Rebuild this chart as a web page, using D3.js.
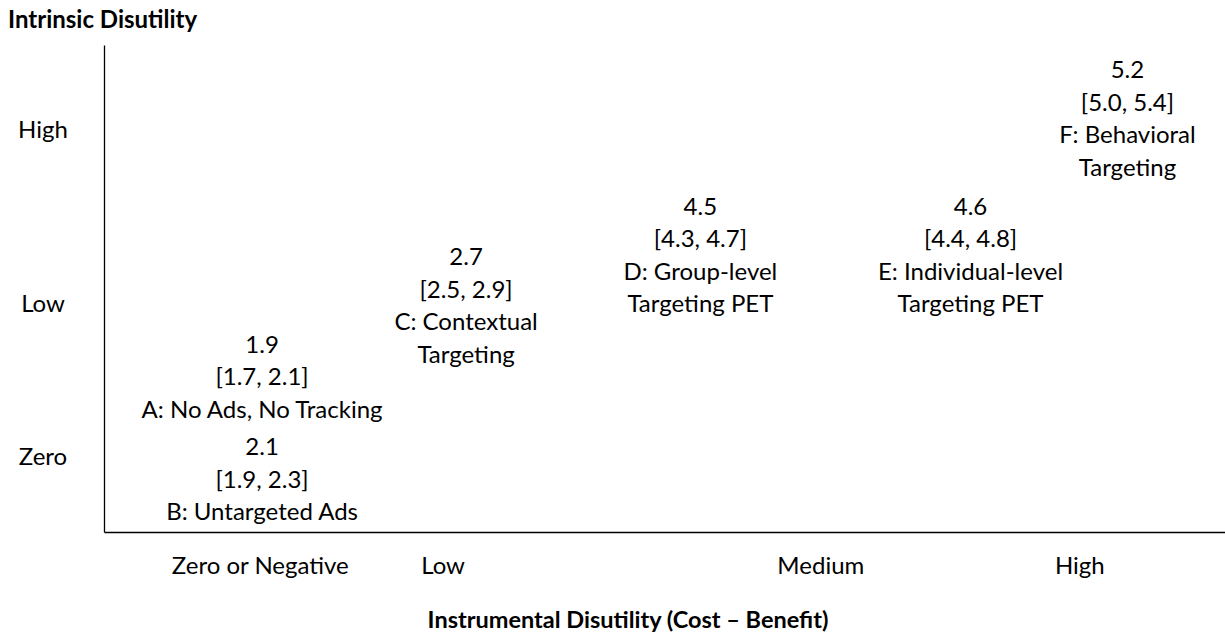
<!DOCTYPE html>
<html>
<head>
<meta charset="utf-8">
<script src="https://cdn.jsdelivr.net/npm/d3@7"></script>
<style>
  body { margin: 0; background: #fff; }
  svg text { font-family: Lato, "Open Sans", sans-serif; fill: #000; }
</style>
</head>
<body>
<svg id="chart" width="1225" height="640"></svg>
<script>
// option labels (one entry per text line)
var optionNames = [
  ["A: No Ads, No Tracking"],
  ["B: Untargeted Ads"],
  ["C: Contextual", "Targeting"],
  ["D: Group-level", "Targeting PET"],
  ["E: Individual-level", "Targeting PET"],
  ["F: Behavioral", "Targeting"]
];
var means = [1.9, 2.1, 2.7, 4.5, 4.6, 5.2];
var ciLow = [1.7, 1.9, 2.5, 4.3, 4.4, 5.0];
var ciHigh = [2.1, 2.3, 2.9, 4.7, 4.8, 5.4];

// where each option sits on the two conceptual axes (0-100 scale)
var instrumental = [14.1, 14.1, 32.3, 53.2, 77.3, 91.3];
var intrinsic = [36.8, 15.8, 54.8, 65.1, 65.1, 93.2];

// axis category labels
var xLabels = ["Zero or Negative", "Low", "Medium", "High"];
var xLabelPos = [13.9, 30.2, 63.9, 87.0];
var yLabels = ["High", "Low", "Zero"];
var yLabelPos = [81.1, 45.2, 13.8];

var svg = d3.select("#chart");

var x = d3.scaleLinear().domain([0, 100]).range([104, 1225]);
var y = d3.scaleLinear().domain([0, 100]).range([532, 45]);
var lineH = 32.5;

// bottom axis
var xAxis = svg.append("g")
    .attr("transform", "translate(0," + y(0) + ")")
    .call(d3.axisBottom(x)
      .tickValues(xLabelPos)
      .tickFormat(function(d, i) { return xLabels[i]; })
      .tickSize(0)
      .tickSizeOuter(0));
xAxis.select(".domain").attr("stroke", "#000").attr("stroke-width", 1.3);
xAxis.selectAll("text")
    .attr("y", 42)
    .attr("dy", 0)
    .style("font-size", "24px")
    .style("font-family", "Lato, sans-serif");

// left axis
var yAxis = svg.append("g")
    .attr("transform", "translate(" + x(0) + ",0)")
    .call(d3.axisLeft(y)
      .tickValues(yLabelPos)
      .tickFormat(function(d, i) { return yLabels[i]; })
      .tickSize(0)
      .tickSizeOuter(0));
yAxis.select(".domain").attr("stroke", "#000").attr("stroke-width", 1.3);
yAxis.selectAll("text")
    .attr("x", -61)
    .attr("dy", 0)
    .attr("text-anchor", "middle")
    .style("font-size", "24px")
    .style("font-family", "Lato, sans-serif");

// axis titles
svg.append("text")
    .attr("x", 8)
    .attr("y", 28)
    .style("font-size", "24px")
    .style("font-weight", "bold")
    .text("Intrinsic Disutility");

svg.append("text")
    .attr("x", 628)
    .attr("y", 628)
    .attr("text-anchor", "middle")
    .style("font-size", "23.5px")
    .style("font-weight", "bold")
    .text("Instrumental Disutility (Cost \u2013 Benefit)");

// option blocks: mean, CI, name
var blocks = svg.selectAll(".opt")
    .data(means.map(function(m, i) {
      return {
        lines: [m.toFixed(1), "[" + ciLow[i].toFixed(1) + ", " + ciHigh[i].toFixed(1) + "]"].concat(optionNames[i]),
        xv: instrumental[i],
        yv: intrinsic[i]
      };
    }))
    .enter()
    .append("text")
    .attr("class", "opt")
    .attr("text-anchor", "middle")
    .style("font-size", "24px");

blocks.selectAll("tspan")
    .data(function(d) { return d.lines.map(function(l) { return {t: l, d: d}; }); })
    .enter()
    .append("tspan")
    .attr("x", function(o) { return x(o.d.xv); })
    .attr("y", function(o, i) { return y(o.d.yv) + i * lineH; })
    .text(function(o) { return o.t; });
</script>
</body>
</html>
